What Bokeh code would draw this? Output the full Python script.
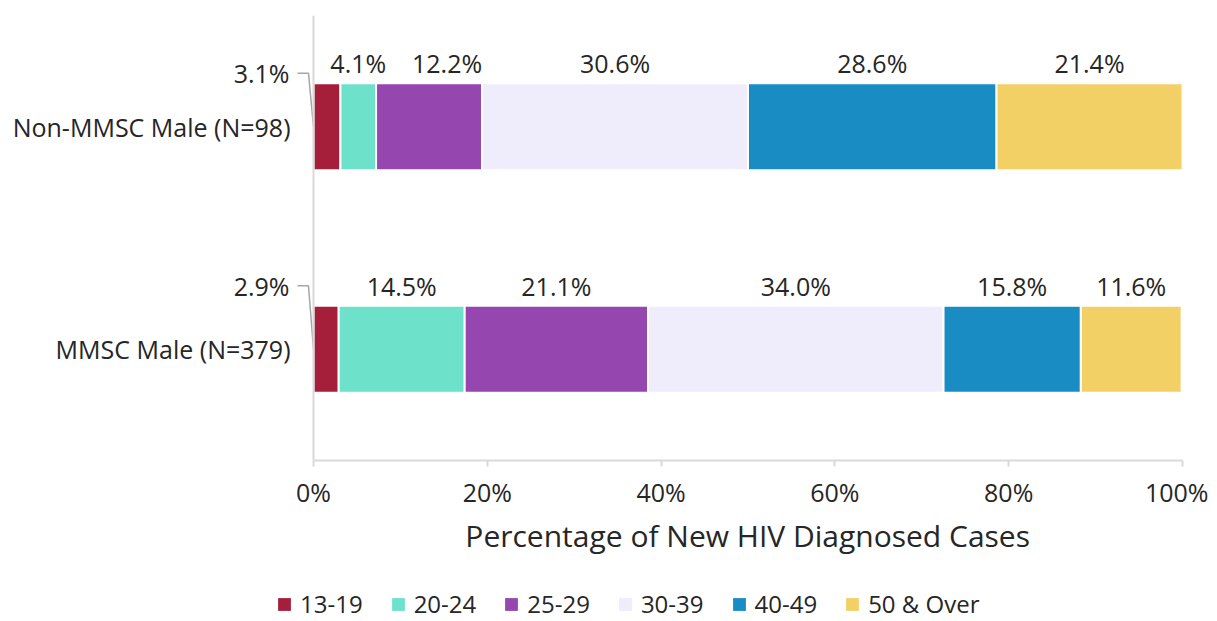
from bokeh.plotting import figure
from bokeh.layouts import column
from bokeh.models import (Range1d, FixedTicker, Legend, LegendItem, ColumnDataSource,
                          PrintfTickFormatter, Span)
from bokeh.embed import file_html
from bokeh.resources import INLINE
from bokeh.core.properties import value

# ---- data ----
categories = ["MMSC Male (N=379)", "Non-MMSC Male (N=98)"]
age_groups = ["13-19", "20-24", "25-29", "30-39", "40-49", "50 & Over"]
mmsc_pct = [2.9, 14.5, 21.1, 34.0, 15.8, 11.6]
non_mmsc_pct = [3.1, 4.1, 12.2, 30.6, 28.6, 21.4]
x_ticks = [0, 20, 40, 60, 80, 100]
x_title = "Percentage of New HIV Diagnosed Cases"
colors = ["#A51F3B", "#6EE1CB", "#9546AF", "#EFECFB", "#1A8CC4", "#F3D066"]

FONT = "Open Sans"
TXT = "#262626"
AX = "#d9d9d9"
BAR_H = 0.39

series = [mmsc_pct, non_mmsc_pct]
ypos = [0.5 + i for i in range(len(categories))]

W, H1, H2 = 1208, 515, 105
FL, AXL, FR, FT, FB = 2, 313, 1182, 15, 460  # frame edges / value-axis origin in canvas px

px_x = 100 / (FR - AXL)
px_y = 2 / (FB - FT)

p = figure(width=W, height=H1, x_range=Range1d(-(AXL - FL) * px_x, 100), y_range=Range1d(0, 2),
           output_backend="svg", toolbar_location=None,
           min_border_left=FL, min_border_right=W - FR, min_border_top=FT, min_border_bottom=H1 - FB)
p.outline_line_color = None
p.xgrid.visible = False
p.ygrid.visible = False
p.yaxis.visible = False

# category axis line at x = 0
p.add_layout(Span(location=0, dimension="height", line_color=AX, line_width=2))

# stacked bars
renderers, sources = [], []
lefts = [0.0] * len(categories)
label_x, label_y, label_t, label_dx = [], [], [], []
for gi, g in enumerate(age_groups):
    vals = [s[gi] for s in series]
    left = list(lefts)
    right = [l + v for l, v in zip(left, vals)]
    src = ColumnDataSource(dict(y=ypos, left=left, right=right))
    sources.append(src)
    r = p.hbar(y="y", left="left", right="right", height=BAR_H, source=src,
               fill_color=colors[gi], line_color="white", line_width=2)
    renderers.append(r)
    if gi > 0:
        for ci in range(len(categories)):
            label_x.append((left[ci] + right[ci]) / 2)
            label_y.append(ypos[ci] + BAR_H / 2 + 20 * px_y)
            label_t.append(f"{vals[ci]:.1f}%")
            # nudge the 25-29 label of the top row away from its narrow neighbour
            label_dx.append(18 if (gi == 2 and ci == 1) else 0)
    lefts = right

p.text(x="x", y="y", text="t", x_offset="dx",
       source=ColumnDataSource(dict(x=label_x, y=label_y, t=label_t, dx=label_dx)),
       text_align="center", text_baseline="middle",
       text_font=value(FONT), text_font_size="25px", text_color=TXT)

# category labels (left of the axis)
p.text(x=[0] * len(categories), y=ypos, text=categories, x_offset=-23,
       text_align="right", text_baseline="middle",
       text_font=value(FONT), text_font_size="25px", text_color=TXT)

# first-segment labels with leader lines
first_offsets = [20, 10]  # px above bar top for MMSC, Non-MMSC
fx, fy, ft, lx, ly = [], [], [], [], []
for ci in range(len(categories)):
    yl = ypos[ci] + BAR_H / 2 + first_offsets[ci] * px_y
    fx.append(0)
    fy.append(yl)
    ft.append(f"{series[ci][0]:.1f}%")
    lx.append([-16 * px_x, -5 * px_x, 0])
    ly.append([yl, yl, ypos[ci]])
p.multi_line(xs=lx, ys=ly, line_color="#a6a6a6", line_width=1.5)
p.text(x=fx, y=fy, text=ft, x_offset=-24, text_align="right", text_baseline="middle",
       text_font=value(FONT), text_font_size="25px", text_color=TXT)

# value axis
xa = p.xaxis[0]
xa.bounds = (0, 100)
xa.ticker = FixedTicker(ticks=x_ticks)
xa.formatter = PrintfTickFormatter(format="%d%%")
xa.minor_tick_line_color = None
xa.major_tick_in = 0
xa.major_tick_out = 6
xa.major_tick_line_color = AX
xa.major_tick_line_width = 2
xa.axis_line_color = AX
xa.axis_line_width = 2
xa.major_label_text_font = FONT
xa.major_label_text_font_size = "25px"
xa.major_label_text_color = TXT
xa.major_label_standoff = 8

# strip below the chart: axis title and legend (pixel-unit ranges)
lg = figure(width=W, height=H2, x_range=Range1d(0, W), y_range=Range1d(0, H2),
            output_backend="svg", toolbar_location=None,
            min_border_left=0, min_border_right=0, min_border_top=0, min_border_bottom=0)
lg.axis.visible = False
lg.xgrid.visible = False
lg.ygrid.visible = False
lg.outline_line_color = None
lg.text(x=[(AXL + FR) / 2], y=[H2 - 20], text=[x_title], x_offset=15,
        text_align="center", text_baseline="middle",
        text_font=value(FONT), text_font_size="30px", text_color=TXT)

# swatch renderers share the bar data but sit outside this strip's visible range
lg.extra_y_ranges = {"hidden": Range1d(1000, 1001)}
swatches = [lg.hbar(y="y", left="left", right="right", height=BAR_H, source=s, y_range_name="hidden",
                    fill_color=c, line_color=None)
            for s, c in zip(sources, colors)]
legend = Legend(items=[LegendItem(label=g, renderers=[r]) for g, r in zip(age_groups, swatches)],
                orientation="horizontal", location=(274, 0),
                glyph_width=16, glyph_height=16, label_standoff=8, spacing=27,
                label_text_font=FONT, label_text_font_size="24px", label_text_color=TXT,
                background_fill_alpha=0, border_line_color=None, padding=0, margin=0)
lg.add_layout(legend, "center")

layout = column(p, lg, spacing=0)
open("out.html", "w").write(file_html(layout, INLINE))
